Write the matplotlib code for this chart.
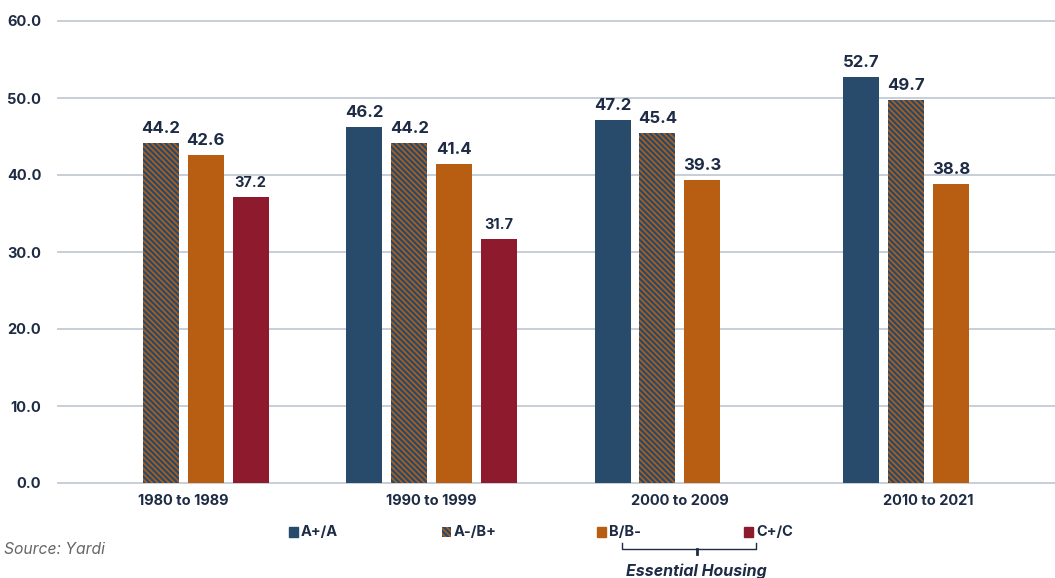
import matplotlib.pyplot as plt
import matplotlib.patches as mpatches
from matplotlib.lines import Line2D
import numpy as np

plt.rcParams['font.family'] = ['Inter', 'DejaVu Sans']
plt.rcParams['hatch.linewidth'] = 1.7

decades = ['1980 to 1989', '1990 to 1999', '2000 to 2009', '2010 to 2021']
classes = ['A+/A', 'A-/B+', 'B/B-', 'C+/C']
a_plus = [np.nan, 46.2, 47.2, 52.7]
a_minus = [44.2, 44.2, 45.4, 49.7]
b_class = [42.6, 41.4, 39.3, 38.8]
c_class = [37.2, 31.7, np.nan, np.nan]

navy = '#284b6b'
orange = '#b85e12'
red = '#8e1a2d'
text_col = '#1d2b45'
grid_col = '#c3cad6'

styles = [
    dict(color=navy),
    dict(facecolor=orange, edgecolor=navy, hatch='\\' * 6, linewidth=0),
    dict(color=orange),
    dict(color=red),
]

fig = plt.figure(figsize=(10.55, 5.78), dpi=100)
ax = fig.add_axes([58 / 1055, 1 - 483 / 578, 1 - 58 / 1055, (483 - 21) / 578])

x = np.arange(len(decades))
width = 0.145
step = 0.181
series = [a_plus, a_minus, b_class, c_class]
for i, (vals, st) in enumerate(zip(series, styles)):
    pos = x + (i - 1.5) * step
    vals = np.array(vals, float)
    ok = ~np.isnan(vals)
    bars = ax.bar(pos[ok], vals[ok], width, zorder=3, **st)
    for rect, v in zip(bars, vals[ok]):
        fs = 12 if i < 3 else 10.5
        ax.annotate('%.1f' % v, (rect.get_x() + rect.get_width() / 2, v),
                    xytext=(0, 5), textcoords='offset points',
                    ha='center', va='bottom', fontsize=fs,
                    fontweight='bold', color=text_col)

ax.set_xlim(-0.504, 3.51)
ax.set_ylim(0, 60)
ax.set_yticks(np.arange(0, 61, 10))
ax.set_yticklabels(['%.1f' % t for t in np.arange(0, 61, 10)])
ax.yaxis.grid(True, color=grid_col, linewidth=1.3, zorder=0)
for gl in ax.get_ygridlines():
    gl.set_clip_on(False)
ax.set_xticks(x)
ax.set_xticklabels(decades)
ax.tick_params(axis='both', length=0, colors=text_col, labelsize=10.5)
ax.tick_params(axis='y', pad=12)
ax.tick_params(axis='x', pad=8)
for lab in ax.get_xticklabels() + ax.get_yticklabels():
    lab.set_fontweight('bold')
for s in ax.spines.values():
    s.set_visible(False)

# legend drawn by hand so the entries sit at fixed spots
leg_x = [289, 442, 597, 744]
leg_y = 1 - 532 / 578
for lx, name, st in zip(leg_x, classes, styles):
    p = mpatches.Rectangle((lx / 1055, leg_y - 0.0095), 9 / 1055, 0.019,
                           transform=fig.transFigure, **st)
    fig.patches.append(p)
    fig.text((lx + 12) / 1055, leg_y, name, ha='left', va='center',
             fontsize=10.5, fontweight='bold', color=text_col)

# bracket under the essential housing classes
bx0, bx1, bmid = 622 / 1055, 756 / 1055, 697 / 1055
by = 1 - 549 / 578
bk = dict(transform=fig.transFigure, color=text_col, linewidth=1)
fig.lines.append(Line2D([bx0, bx0, bx1, bx1], [by + 0.01, by, by, by + 0.01], **bk))
fig.lines.append(Line2D([bmid, bmid], [by, by - 0.008], linewidth=2,
                        transform=fig.transFigure, color=text_col))
fig.text(696 / 1055, 1 - 571 / 578, 'Essential Housing', ha='center', va='center',
         fontsize=11.5, fontweight='bold', style='italic', color=text_col)

fig.text(4 / 1055, 1 - 550 / 578, 'Source: Yardi', ha='left', va='center',
         fontsize=11.3, style='italic', color='#666666')

fig.savefig('out.png', dpi=100)
